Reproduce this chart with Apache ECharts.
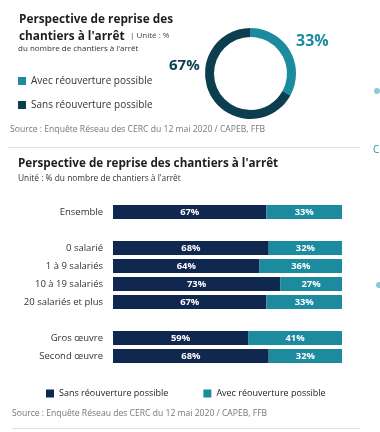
<!DOCTYPE html>
<html><head><meta charset="utf-8">
<script src="https://cdn.jsdelivr.net/npm/echarts@6/dist/echarts.min.js"></script>
<style>html,body{margin:0;padding:0;background:#fff}#c{width:380px;height:432px}</style>
</head><body><div id="c"></div>
<script>
// Donut data
const pieNames = ['Avec réouverture possible', 'Sans réouverture possible'];
const pieValues = [33, 67];
// Bar data
const categories = ['Ensemble', ' ', '0 salarié', '1 à 9 salariés', '10 à 19 salariés', '20 salariés et plus', '  ', 'Gros œuvre', 'Second œuvre'];
const sansValues = [67, null, 68, 64, 73, 67, null, 59, 68];
const avecValues = [33, null, 32, 36, 27, 33, null, 41, 32];
const sourceText = 'Source : Enquête Réseau des CERC du 12 mai 2020 / CAPEB, FFB';

const TEAL = '#1c8ba0', DARK = '#0b3e4e', NAVY = '#10274f';
const FONT = '"Open Sans", sans-serif';

const chart = echarts.init(document.getElementById('c'), null, {renderer: 'canvas'});
chart.setOption({
  animation: false,
  textStyle: {fontFamily: FONT},
  title: [
    {text: 'Perspective de reprise des\nchantiers à l\'arrêt', left: 19, top: 11, padding: 0,
     textStyle: {fontSize: 11.8, fontWeight: 'bold', color: '#1e1e1e', lineHeight: 17, fontFamily: FONT}},
    {text: 'Perspective de reprise des chantiers à l\'arrêt', left: 18, top: 158, padding: 0,
     subtext: 'Unité : % du nombre de chantiers à l\'arrêt', itemGap: 5,
     textStyle: {fontSize: 11.7, fontWeight: 'bold', color: '#1e1e1e', fontFamily: FONT},
     subtextStyle: {fontSize: 8.4, color: '#333', fontFamily: FONT}}
  ],
  legend: [
    {orient: 'vertical', left: 13, top: 71, itemWidth: 8, itemHeight: 8, itemGap: 14, icon: 'rect',
     textStyle: {fontSize: 10, color: '#333', fontFamily: FONT},
     data: [{name: pieNames[0], itemStyle: {color: TEAL}}, {name: pieNames[1], itemStyle: {color: DARK}}],
     selectedMode: false},
    {orient: 'horizontal', left: 41, top: 384, itemWidth: 8, itemHeight: 8, itemGap: 35, icon: 'rect',
     textStyle: {fontSize: 9, color: '#222', fontFamily: FONT},
     data: [{name: 'Sans réouverture possible', itemStyle: {color: NAVY}}, {name: 'Avec réouverture possible', itemStyle: {color: TEAL}}],
     selectedMode: false}
  ],
  grid: {left: 113, right: 38, top: 203, height: 162, containLabel: false},
  xAxis: {type: 'value', min: 0, max: 100, show: false},
  yAxis: {type: 'category', inverse: true, data: categories,
    axisLine: {show: false}, axisTick: {show: false},
    axisLabel: {fontSize: 9.5, color: '#333', margin: 10, fontFamily: FONT}},
  series: [
    {type: 'pie', name: 'donut', radius: [36.5, 45.5], center: [250.5, 73.5], startAngle: 90, clockwise: true,
     label: {show: false}, labelLine: {show: false}, silent: true,
     data: pieNames.map((n, i) => ({name: n, value: pieValues[i], itemStyle: {color: i === 0 ? TEAL : DARK}}))},
    {type: 'bar', name: 'Sans réouverture possible', stack: 's', barWidth: 14, data: sansValues,
     itemStyle: {color: NAVY},
     label: {show: true, position: 'inside', formatter: '{c}%', color: '#fff', fontSize: 9.4, fontWeight: 'bold', fontFamily: FONT}},
    {type: 'bar', name: 'Avec réouverture possible', stack: 's', barWidth: 14, data: avecValues,
     itemStyle: {color: TEAL},
     label: {show: true, position: 'inside', formatter: '{c}%', color: '#fff', fontSize: 9.4, fontWeight: 'bold', fontFamily: FONT}}
  ],
  graphic: [
    {type: 'text', left: 130, top: 32, style: {text: '| Unité : %', fontSize: 8, fill: '#444', fontFamily: FONT}},
    {type: 'text', left: 18, top: 45, style: {text: 'du nombre de chantiers à l\'arrêt', fontSize: 8, fill: '#333', fontFamily: FONT}},
    {type: 'text', left: 296, top: 33, style: {text: pieValues[0] + '%', fontSize: 16, fontWeight: 'bold', fill: TEAL, fontFamily: FONT}},
    {type: 'text', left: 169, top: 58, style: {text: pieValues[1] + '%', fontSize: 15, fontWeight: 'bold', fill: DARK, fontFamily: FONT}},
    {type: 'text', left: 10, top: 125, style: {text: sourceText, fontSize: 8.6, fill: '#777', fontFamily: FONT}},
    {type: 'line', shape: {x1: 8, y1: 147.5, x2: 360, y2: 147.5}, style: {stroke: '#ddd', lineWidth: 1}},
    {type: 'text', left: 12, top: 409, style: {text: sourceText, fontSize: 8.6, fill: '#777', fontFamily: FONT}},
    {type: 'line', shape: {x1: 12, y1: 428.5, x2: 360, y2: 428.5}, style: {stroke: '#ddd', lineWidth: 1}},
    {type: 'circle', shape: {cx: 377, cy: 91, r: 3}, style: {fill: '#8ccbd6'}},
    {type: 'circle', shape: {cx: 379, cy: 285, r: 3}, style: {fill: '#8ccbd6'}},
    {type: 'text', left: 373, top: 145, style: {text: 'C', fontSize: 10, fill: '#3a8fa3', fontFamily: FONT}}
  ]
});
</script></body></html>
